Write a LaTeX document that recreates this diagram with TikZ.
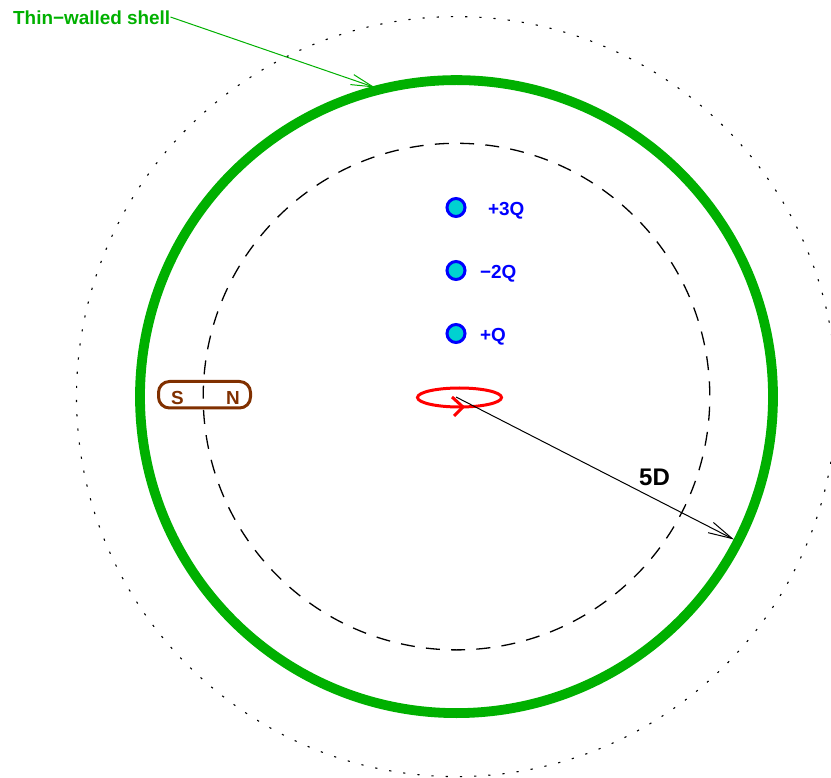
\documentclass[tikz,border=0pt]{standalone}
\usepackage{fontspec}
\setmainfont{Liberation Sans}
\usetikzlibrary{arrows.meta,calc}
\definecolor{shellgreen}{RGB}{0,176,0}
\definecolor{chargeblue}{RGB}{0,0,255}
\definecolor{chargecyan}{RGB}{0,209,209}
\definecolor{magbrown}{RGB}{128,48,0}
\definecolor{loopred}{RGB}{255,0,0}
\tikzset{
  lab/.style={font=\fontsize{18.9}{20}\selectfont\bfseries, inner sep=0pt},
  charge/.style={circle, draw=chargeblue, fill=chargecyan, line width=3pt, minimum size=18pt, inner sep=0pt},
  bighead/.style={-{Straight Barb[length=24pt,width=11.5pt,line width=1pt]}},
  smallhead/.style={-{Straight Barb[length=22pt,width=10.5pt,line width=1pt]}},
}
\begin{document}
\begin{tikzpicture}[x=1pt,y=-1pt]
\useasboundingbox (0,0) rectangle (831,778);
\clip (0,0) rectangle (831,778);
\coordinate (c) at (456.5,396.6);
\draw[black, line width=1.1pt, dash pattern=on 2.2pt off 12.014pt, dash phase=5.61pt]
  ($(c)+(-380,0)$) arc[start angle=180, end angle=540, radius=380];
\draw[black, line width=1.3pt, dash pattern=on 14pt off 11.28pt, dash phase=3pt]
  ($(c)+(-253.3,0)$) arc[start angle=180, end angle=540, radius=253.3];
\draw[shellgreen, line width=9.8pt] (c) circle[radius=316.5];
\node[charge] (q1) at (456,207.5) {};
\node[charge] (q2) at (456,270.5) {};
\node[charge] (q3) at (456,333.5) {};
\node[lab, text=chargeblue, anchor=base west] (l1) at (488,215.7) {+3Q};
\node[lab, text=chargeblue, anchor=base west] (l2) at (480,278.7) {−2Q};
\node[lab, text=chargeblue, anchor=base west] (l3) at (480,341.7) {+Q};
\draw[magbrown, line width=3pt, rounded corners=11pt] (158.5,381.5) rectangle (250.5,408);
\node[lab, text=magbrown, anchor=base] (s) at (177.5,405) {S};
\node[lab, text=magbrown, anchor=base] (n) at (233,405) {N};
\draw[loopred, line width=3pt] (459.5,397.5) ellipse[x radius=42, y radius=9.5];
\coordinate (ch1) at (452,397);
\coordinate (ch2) at (463,407);
\coordinate (ch3) at (454,416);
\draw[loopred, line width=3pt] (ch1) -- (ch2) -- (ch3);
\coordinate (o) at (456,397);
\coordinate (rim) at (734,539.5);
\draw[black, line width=1pt, bighead] (o) -- (rim);
\node[font=\fontsize{24}{26}\selectfont\bfseries, inner sep=0pt, anchor=base west] (d) at (639,485) {5D};
\node[lab, text=shellgreen, anchor=base west] (t) at (13,25) {Thin−walled shell};
\coordinate (shell) at (375,87.5);
\draw[shellgreen, line width=1pt, smallhead] (t.base east |- 0,17) -- (shell);
\end{tikzpicture}
\end{document}
